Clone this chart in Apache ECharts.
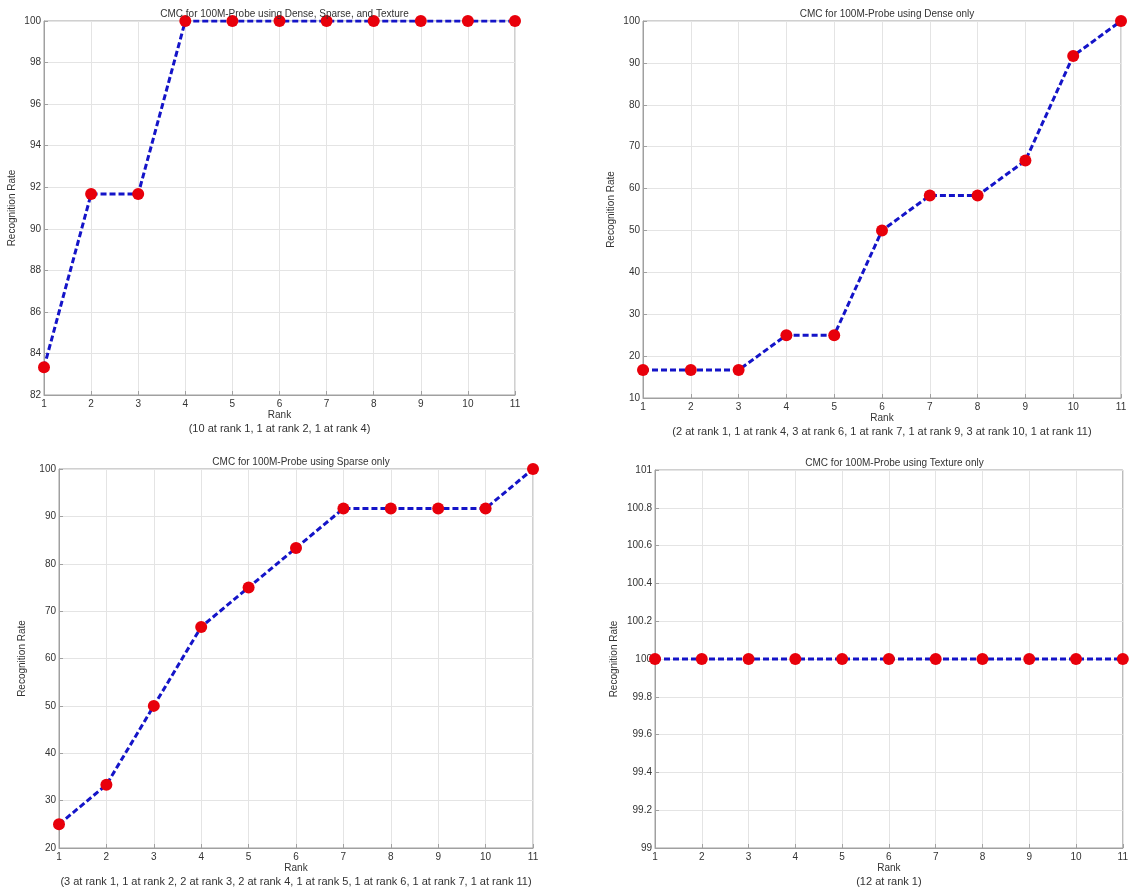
<!DOCTYPE html>
<html>
<head>
<meta charset="utf-8">
<script src="https://cdn.jsdelivr.net/npm/echarts@6/dist/echarts.min.js"></script>
<style>html,body{margin:0;padding:0;background:#fff;}#c{width:1131px;height:890px;}</style>
</head>
<body>
<div id="c"></div>
<script>
const ranks = [1,2,3,4,5,6,7,8,9,10,11];
const titles = [
  'CMC for 100M-Probe using Dense, Sparse, and Texture',
  'CMC for 100M-Probe using Dense only',
  'CMC for 100M-Probe using Sparse only',
  'CMC for 100M-Probe using Texture only'
];
const notes = [
  '(10 at rank 1, 1 at rank 2, 1 at rank 4)',
  '(2 at rank 1, 1 at rank 4, 3 at rank 6, 1 at rank 7, 1 at rank 9, 3 at rank 10, 1 at rank 11)',
  '(3 at rank 1, 1 at rank 2, 2 at rank 3, 2 at rank 4, 1 at rank 5, 1 at rank 6, 1 at rank 7, 1 at rank 11)',
  '(12 at rank 1)'
];
const rateAll = [83.33, 91.67, 91.67, 100, 100, 100, 100, 100, 100, 100, 100];
const rateDense = [16.67, 16.67, 16.67, 25, 25, 50, 58.33, 58.33, 66.67, 91.67, 100];
const rateSparse = [25, 33.33, 50, 66.67, 75, 83.33, 91.67, 91.67, 91.67, 91.67, 100];
const rateTexture = [100, 100, 100, 100, 100, 100, 100, 100, 100, 100, 100];
const yMin = [82, 10, 20, 99];
const yMax = [100, 100, 100, 101];
const yStep = [2, 10, 10, 0.2];

const series = [rateAll, rateDense, rateSparse, rateTexture];
const grids = [
  {left: 44, top: 21, width: 471, height: 374},
  {left: 643, top: 21, width: 478, height: 377},
  {left: 59, top: 469, width: 474, height: 379},
  {left: 655, top: 470, width: 469, height: 378}
];
const yNameGap = [27, 27, 32, 36];
const font = 'Liberation Sans, Arial, sans-serif';
const txt = '#333';

const option = {
  animation: false,
  backgroundColor: '#fff',
  title: grids.map((g, i) => ({
    text: titles[i],
    left: g.left + g.width / 2,
    top: g.top - 17,
    textAlign: 'center',
    textStyle: {fontSize: 10, fontWeight: 'normal', color: txt, fontFamily: font}
  })),
  grid: grids.map(g => Object.assign({show: true, borderColor: '#a0a0a0', borderWidth: 1, backgroundColor: '#fff'}, g)),
  xAxis: grids.map((g, i) => ({
    type: 'value', gridIndex: i, min: 1, max: 11, interval: 1,
    name: '{r|Rank}\n{n|' + notes[i] + '}', nameLocation: 'middle', nameGap: 8,
    nameTextStyle: {fontSize: 10, color: txt, fontFamily: font,
      rich: {
        r: {fontSize: 10, color: txt, fontFamily: font, lineHeight: 14},
        n: {fontSize: 11, color: txt, fontFamily: font, lineHeight: 14}
      }},
    axisLine: {show: true, lineStyle: {color: '#a0a0a0'}},
    axisTick: {show: true, inside: true, length: 4, lineStyle: {color: '#a0a0a0'}},
    axisLabel: {fontSize: 10, color: txt, fontFamily: font, margin: 4},
    splitLine: {show: true, lineStyle: {color: '#e4e4e4', width: 1}}
  })),
  yAxis: grids.map((g, i) => ({
    type: 'value', gridIndex: i, min: yMin[i], max: yMax[i], interval: yStep[i],
    name: 'Recognition Rate', nameLocation: 'middle', nameGap: yNameGap[i],
    nameTextStyle: {fontSize: 10, color: txt, fontFamily: font},
    axisLine: {show: true, lineStyle: {color: '#a0a0a0'}},
    axisTick: {show: true, inside: true, length: 4, lineStyle: {color: '#a0a0a0'}},
    axisLabel: {fontSize: 10, color: txt, fontFamily: font, margin: 3,
      formatter: v => String(Math.round(v * 10) / 10)},
    splitLine: {show: true, lineStyle: {color: '#e4e4e4', width: 1}}
  })),
  series: series.map((d, i) => ({
    type: 'line', xAxisIndex: i, yAxisIndex: i,
    data: d.map((v, k) => [ranks[k], v]),
    symbol: 'circle', symbolSize: 12,
    itemStyle: {color: '#e8000b', borderWidth: 0},
    lineStyle: {color: '#1414c8', width: 3, type: [6, 3]},
    z: 3
  }))
};
const chart = echarts.init(document.getElementById('c'), null, {renderer: 'canvas'});
chart.setOption(option);
</script>
</body>
</html>
